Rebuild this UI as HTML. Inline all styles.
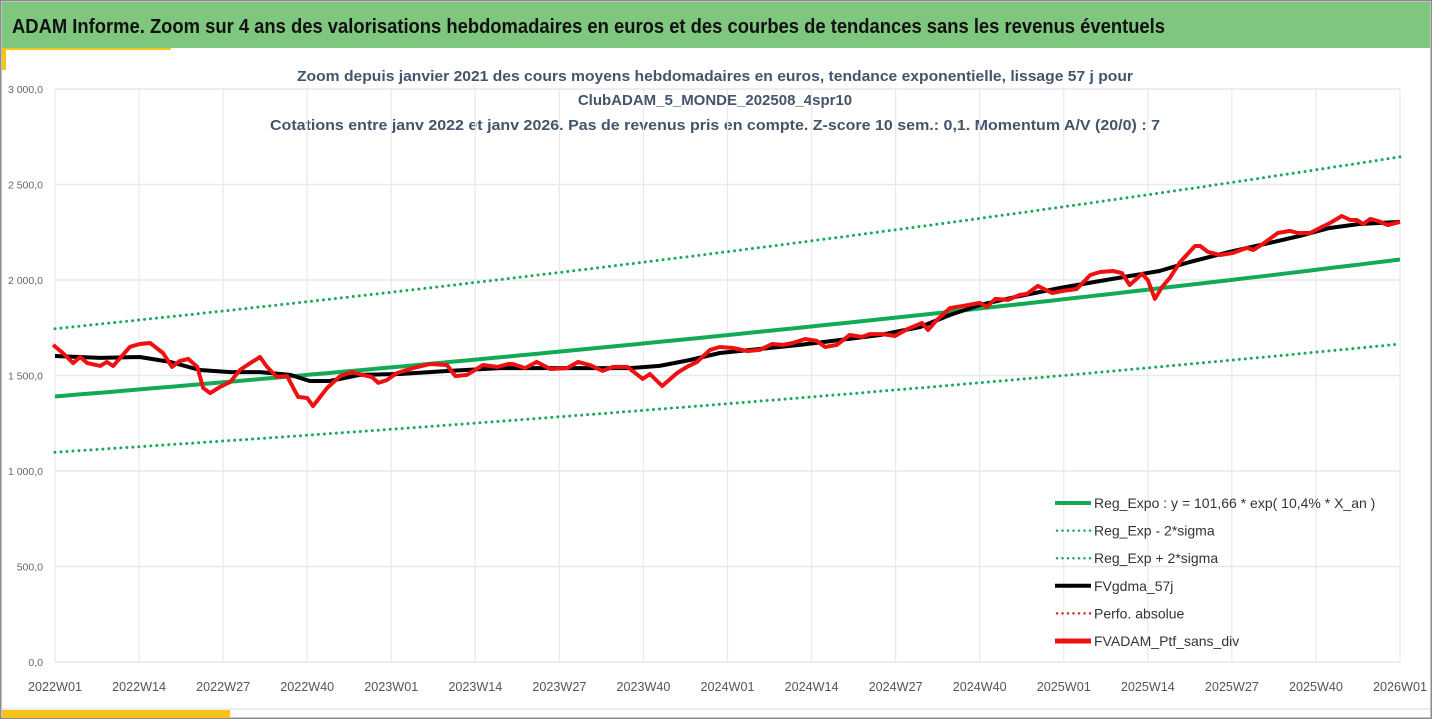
<!DOCTYPE html>
<html><head><meta charset="utf-8"><style>
body{margin:0;background:#fff;}
#wrap{position:relative;width:1432px;height:719px;overflow:hidden;background:#fff;font-family:"Liberation Sans",sans-serif;}
</style></head><body>
<div id="wrap">
<svg id="svg" width="1432" height="719" xmlns="http://www.w3.org/2000/svg"></svg>
</div>
<script>
const xLabels=["2022W01","2022W14","2022W27","2022W40","2023W01","2023W14","2023W27","2023W40","2024W01","2024W14","2024W27","2024W40","2025W01","2025W14","2025W27","2025W40","2026W01"];
const yTicks=[0,500,1000,1500,2000,2500,3000];
const yTickLabels=["0,0","500,0","1 000,0","1 500,0","2 000,0","2 500,0","3 000,0"];
const regA=101.66, regRate=0.104, regX0=25.15, sigmaUp=1.255, sigmaDown=0.79;
const redWeeks=[-0.3,1.2,2.8,3.9,5.0,7.0,8.0,9.0,11.6,13.1,14.7,16.7,18.1,19.3,20.6,22.0,22.9,24.0,25.5,27.1,28.6,30.2,31.7,32.8,34.3,35.9,37.6,39.0,39.9,42.1,44.1,45.9,47.6,49.0,50.0,51.3,52.9,55.4,58.0,60.6,61.9,63.7,66.2,68.4,70.1,70.8,72.7,74.5,76.6,79.2,80.9,82.7,84.7,86.3,88.5,90.9,92.0,93.9,96.2,97.7,99.3,101.3,102.8,104.9,107.0,109.0,110.9,112.6,114.1,116.0,117.8,119.1,120.9,122.9,124.8,126.0,128.0,129.9,131.8,134.1,135.0,136.4,138.4,140.4,143.0,144.1,145.4,147.4,149.2,150.3,152.0,154.2,155.9,158.0,160.1,161.6,163.6,165.0,166.2,168.1,169.0,170.1,171.2,172.4,174.0,176.3,177.1,178.3,180.2,182.2,184.3,185.3,186.8,189.1,191.0,192.2,194.1,195.6,197.2,199.0,200.3,201.3,202.3,203.4,204.6,206.1,208.0];
const redValues=[1660,1618,1565,1597,1565,1550,1571,1550,1650,1665,1670,1618,1545,1576,1587,1545,1435,1408,1440,1466,1529,1565,1597,1545,1492,1497,1388,1382,1340,1435,1497,1518,1503,1492,1461,1476,1513,1539,1560,1555,1497,1503,1555,1545,1560,1560,1539,1571,1534,1539,1571,1555,1524,1545,1545,1482,1508,1445,1513,1545,1571,1634,1649,1644,1628,1634,1665,1660,1670,1691,1681,1649,1660,1712,1702,1717,1717,1707,1743,1775,1738,1791,1853,1864,1880,1859,1901,1896,1922,1927,1969,1932,1943,1953,2026,2042,2047,2036,1974,2032,2000,1901,1963,2011,2094,2178,2178,2147,2131,2142,2168,2157,2189,2246,2257,2246,2246,2272,2299,2335,2314,2314,2293,2320,2309,2288,2304];
const blackWeeks=[0,7,13.1,17.8,22.4,27.1,31.7,36.4,39.4,42.5,47.1,53.3,61,68.8,76.5,84.3,88.9,93.5,98.2,102.8,109,115.2,121.4,127.6,133.8,138.4,143,149.2,155.4,161.6,166.2,170.8,175.5,181.6,187.8,192.5,197.1,201.7,208];
const blackValues=[1602,1592,1597,1571,1529,1518,1518,1503,1471,1471,1503,1508,1524,1539,1539,1539,1539,1550,1581,1618,1639,1660,1686,1712,1754,1817,1869,1916,1958,1995,2021,2047,2094,2147,2194,2231,2272,2293,2304];
const NW=208;
const X0=55,X1=1400,Y0=662,Y3000=89;
const sx=w=>X0+(w/NW)*(X1-X0);
const sy=v=>Y0-(v/3000)*(Y0-Y3000);
const svg=document.getElementById('svg');
const NS="http://www.w3.org/2000/svg";
function mk(tag,attrs,parent){const e=document.createElementNS(NS,tag);for(const k in attrs)e.setAttribute(k,attrs[k]);(parent||svg).appendChild(e);return e;}
let e=mk('rect',{x:0,y:0,width:1432,height:719,fill:'#fff',stroke:'#8a8a8a','stroke-width':3});


e=mk('rect',{x:2,y:2,width:1428,height:46,fill:'#7fc77e'});


e=mk('text',{x:12,y:33,'font-size':20,'font-weight':'bold',fill:'#111','textLength':1153,'lengthAdjust':'spacingAndGlyphs'});
e.textContent="ADAM Informe. Zoom sur 4 ans des valorisations hebdomadaires en euros et des courbes de tendances sans les revenus éventuels";


e=mk('rect',{x:2,y:48,width:4,height:22,fill:'#f5c518'});


e=mk('rect',{x:6,y:48,width:165,height:2,fill:'#f5c518'});


e=mk('rect',{x:2,y:710,width:228,height:8,fill:'#f7c21a'});


e=mk('line',{x1:2,y1:709,x2:1430,y2:709,stroke:'#d8d8d8','stroke-width':1});


const titles=[["Zoom depuis janvier 2021 des cours moyens hebdomadaires  en euros, tendance exponentielle, lissage 57 j pour",81,836],["ClubADAM_5_MONDE_202508_4spr10",105,0],["Cotations entre janv 2022 et janv 2026. Pas de revenus pris en compte. Z-score 10 sem.: 0,1. Momentum A/V (20/0) : 7",130,890]];
titles.forEach((t,i)=>{const a={x:715,y:t[1],'font-size':15,'font-weight':'bold',fill:'#44546a','text-anchor':'middle'};if(t[2]){a.textLength=t[2];a.lengthAdjust='spacingAndGlyphs';}
e=mk('text',a);e.textContent=t[0];

});
xLabels.forEach((l,i)=>{const x=X0+i*(X1-X0)/(xLabels.length-1);
e=mk('line',{x1:x,y1:Y3000,x2:x,y2:Y0,stroke:'#e6e9ee','stroke-width':1.2});


e=mk('text',{x:x,y:691,'font-size':12.5,fill:'#555','text-anchor':'middle','textLength':54,'lengthAdjust':'spacingAndGlyphs'});e.textContent=l;

});
yTicks.forEach((v,i)=>{const y=sy(v);
e=mk('line',{x1:X0,y1:y,x2:X1,y2:y,stroke:'#e6e9ee','stroke-width':1.5});


e=mk('text',{x:43,y:y+4,'font-size':10.5,fill:'#666','text-anchor':'end'});e.textContent=yTickLabels[i];

});
const trendW=[],trendV=[];
for(let w=0;w<=NW;w+=2){trendW.push(w);trendV.push(regA*Math.exp(regRate*(regX0+w/52)));}
function path(ws,vs,f){return ws.map((w,i)=>(i?'L':'M')+sx(w).toFixed(1)+','+sy(vs[i]*(f||1)).toFixed(1)).join(' ');}
e=mk('path',{d:path(trendW,trendV,sigmaUp),fill:'none',stroke:'#1aa85a','stroke-width':3,'stroke-dasharray':'0 6','stroke-linecap':'round'});


e=mk('path',{d:path(trendW,trendV,sigmaDown),fill:'none',stroke:'#1aa85a','stroke-width':3,'stroke-dasharray':'0 6','stroke-linecap':'round'});


e=mk('path',{d:path(trendW,trendV),fill:'none',stroke:'#12aa55','stroke-width':4});


e=mk('path',{d:path(blackWeeks,blackValues),fill:'none',stroke:'#000','stroke-width':4,'stroke-linejoin':'round'});


e=mk('path',{d:path(redWeeks,redValues),fill:'none',stroke:'#ee1111','stroke-width':4,'stroke-linejoin':'round'});


const leg=[["Reg_Expo : y = 101,66 * exp( 10,4% *  X_an )",'#12aa55',0,'reg-expo'],["Reg_Exp - 2*sigma",'#1aa85a',1,'reg-exp-minus'],["Reg_Exp + 2*sigma",'#1aa85a',1,'reg-exp-plus'],["FVgdma_57j",'#000',0,'fvgdma'],["Perfo. absolue",'#e02020',1,'perfo-absolue'],["FVADAM_Ptf_sans_div",'#ee1111',0,'fvadam']];
leg.forEach((l,i)=>{const y=503+i*27.6;
const g=mk('g',{});


if(l[2]) mk('line',{x1:1057,y1:y,x2:1091,y2:y,stroke:l[1],'stroke-width':2.5,'stroke-dasharray':'0 5.5','stroke-linecap':'round'},g);
else mk('line',{x1:1055,y1:y,x2:1091,y2:y,stroke:l[1],'stroke-width':i==5?5:4},g);
const t=mk('text',{x:1094,y:y+5,'font-size':14,fill:'#333'},g);t.textContent=l[0];});
</script>
</body></html>
